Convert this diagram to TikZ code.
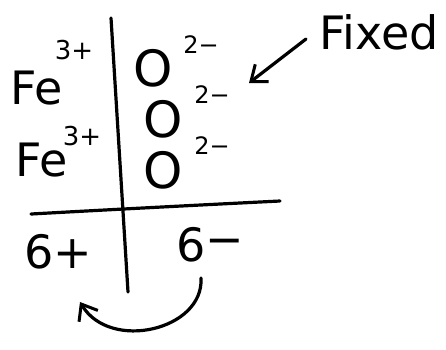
\documentclass[tikz,border=0pt]{standalone}
\usepackage{fontspec}
\setmainfont{DejaVu Sans}
\usetikzlibrary{arrows.meta}
\tikzset{
    ink/.style={draw=black, line width=3.2pt, line cap=round},
    arrow/.style={ink, -{Straight Barb[length=14pt, width=22pt, line width=3pt]}},
    ion/.style={font=\fontsize{46}{50}\selectfont, inner sep=0pt},
    oxy/.style={font=\fontsize{50}{54}\selectfont, inner sep=0pt},
    charge/.style={font=\fontsize{26}{28}\selectfont, inner sep=0pt},
    small/.style={font=\fontsize{24}{26}\selectfont, inner sep=0pt},
    word/.style={font=\fontsize{46}{50}\selectfont, inner sep=0pt}
}

\begin{document}
\begin{tikzpicture}[x=1pt, y=-1pt]
\useasboundingbox (0,0) rectangle (446,349);

% -- cations (left) --
\node[ion] (fe1) at (37,88) {Fe};
\node[charge] (fe1c) at (74,50) {3+};
\node[ion] (fe2) at (42,160) {Fe};
\node[charge] (fe2c) at (82,136) {3+};

% -- anions (right) --
\node[oxy] (o1) at (153,68) {O};
\node[small] (o1c) at (201,45) {2−};
\node[oxy] (o2) at (163,119) {O};
\node[small] (o2c) at (212,95) {2−};
\node[oxy] (o3) at (163,170) {O};
\node[small] (o3c) at (212,146) {2−};

% -- totals --
\node[word] (pos) at (58,252) {6+};
\node[word] (neg) at (210,245) {6\raisebox{6pt}{−}};

% -- label --
\node[word] (fixed) at (379,32) {Fixed};

% -- table lines --
\coordinate (vtop) at (111,18);
\coordinate (vbot) at (128,292);
\coordinate (hleft) at (31,214);
\coordinate (hright) at (280,201);
\draw[ink] (vtop) -- (vbot);
\draw[ink] (hleft) .. controls (140,208) and (220,204) .. (hright);

% -- arrows --
\coordinate (fixtail) at (306,39);
\coordinate (fixtip) at (249,83);
\draw[arrow] (fixtail) -- (fixtip);

\coordinate (swapfrom) at (201,278);
\coordinate (swapto) at (80,302);
\draw[arrow] (swapfrom) .. controls (204,330) and (110,352) .. (swapto);

\end{tikzpicture}
\end{document}
